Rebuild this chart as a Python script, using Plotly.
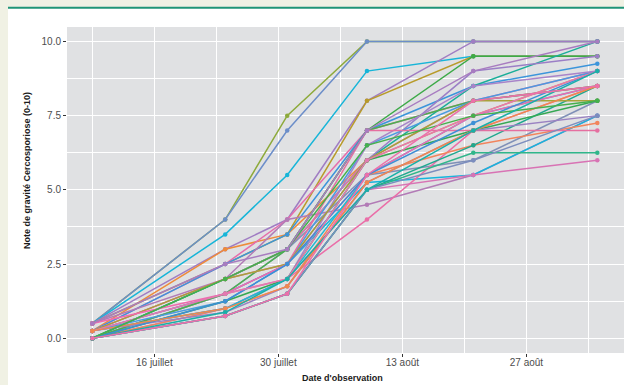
import datetime as dt
import plotly.graph_objects as go

# Observation dates (one column of points per date)
dates = ["2023-07-09", "2023-07-24", "2023-07-31", "2023-08-09", "2023-08-21", "2023-09-04"]

# Cercosporiosis severity score (0-10) per plot, one value per observation date
series_names = [f"P{i:02d}" for i in range(1, 38)]
series_values = [
    [0.5, 4.0, 7.5, 10.0, 10.0, 10.0],
    [0.5, 4.0, 7.0, 10.0, 10.0, 10.0],
    [0.5, 3.5, 5.5, 9.0, 9.5, 9.5],
    [0.5, 3.0, 4.0, 8.0, 10.0, 10.0],
    [0.25, 3.0, 3.5, 6.0, 7.5, 9.0],
    [0.5, 2.5, 3.5, 8.0, 9.5, 9.5],
    [0.25, 2.5, 4.0, 7.0, 8.0, 9.0],
    [0.25, 2.5, 3.5, 7.0, 8.5, 9.25],
    [0.0, 2.0, 3.0, 7.0, 9.5, 9.5],
    [0.0, 2.0, 3.0, 6.0, 8.5, 10.0],
    [0.25, 2.0, 3.0, 6.0, 8.0, 8.5],
    [0.5, 2.0, 4.0, 4.5, 5.5, 7.5],
    [0.25, 1.5, 3.0, 5.5, 6.0, 8.0],
    [0.0, 1.5, 2.5, 5.25, 5.5, 7.5],
    [0.0, 1.5, 2.0, 4.0, 7.0, 8.5],
    [0.25, 1.5, 2.5, 6.0, 9.0, 9.5],
    [0.0, 1.5, 3.0, 7.0, 8.0, 8.5],
    [0.0, 0.75, 1.5, 5.0, 6.25, 6.25],
    [0.0, 1.0, 2.0, 5.0, 5.5, 6.0],
    [0.0, 1.0, 1.75, 5.5, 6.5, 7.25],
    [0.0, 0.75, 1.5, 5.0, 6.5, 8.5],
    [0.25, 1.25, 2.5, 6.5, 8.0, 9.0],
    [0.25, 1.0, 2.0, 6.5, 8.5, 9.0],
    [0.25, 2.0, 2.5, 7.0, 7.0, 7.0],
    [0.25, 2.0, 2.5, 6.0, 8.0, 8.0],
    [0.0, 1.25, 2.0, 6.0, 7.0, 8.0],
    [0.25, 1.0, 2.0, 5.5, 7.5, 8.5],
    [0.5, 1.5, 2.5, 5.5, 7.5, 8.5],
    [0.25, 0.875, 1.75, 5.25, 7.0, 7.5],
    [0.0, 1.25, 2.5, 5.5, 7.25, 9.0],
    [0.25, 1.5, 2.0, 6.0, 7.5, 9.0],
    [0.0, 0.75, 1.5, 5.0, 6.0, 7.5],
    [0.25, 1.0, 1.75, 5.25, 7.0, 8.5],
    [0.0, 2.0, 3.0, 6.5, 7.5, 8.0],
    [0.0, 0.875, 2.0, 5.0, 7.0, 9.0],
    [0.5, 2.5, 3.0, 7.0, 9.0, 10.0],
    [0.0, 0.75, 1.5, 5.5, 8.0, 8.5],
]
series_colors = [
    "#8DAA3B", "#6C8EC9", "#17B5D8", "#A07DC3", "#EE8B3A", "#B89B2B",
    "#E56DAB", "#3C95DB", "#3DAA48", "#1AAE98", "#E773A9", "#B27BB6",
    "#7F90B7", "#17B5DC", "#EA6EA8", "#9B7EC6", "#4CAF50", "#2FB68A",
    "#D873B4", "#F2845C", "#1FA88F", "#4A9BE0", "#A884C9", "#E56FA0",
    "#A8A23A", "#35A853", "#22B9D4", "#F06AAE", "#9A82C2", "#3D8FD6",
    "#E27AB0", "#7C8DBE", "#F0884E", "#45B04C", "#18B0A8", "#A87CC0",
    "#EC70AA",
]

# Axis ticks
x_tick_vals = ["2023-07-16", "2023-07-30", "2023-08-13", "2023-08-27"]
x_tick_text = ["16 juillet", "30 juillet", "13 août", "27 août"]
y_tick_vals = [0, 2.5, 5, 7.5, 10]
y_tick_text = ["0.0", "2.5", "5.0", "7.5", "10.0"]

fig = go.Figure()
for name, vals, col in zip(series_names, series_values, series_colors):
    fig.add_trace(go.Scatter(
        x=dates, y=vals, name=name, mode="lines+markers",
        line=dict(color=col, width=1.5),
        marker=dict(color=col, size=4.5),
        showlegend=False,
    ))

d0 = dt.datetime.fromisoformat(dates[0])
d1 = dt.datetime.fromisoformat(dates[-1])
x_range = [d0 - dt.timedelta(days=2.855), d1 + dt.timedelta(days=3.01)]

W, H = 624, 385
ml, mr, mt, mb = 67, 0, 27, 32
pw, ph = W - ml - mr, H - mt - mb


def px_x(p):
    return (p - ml) / pw


def px_y(p):
    return (H - mb - p) / ph


font_family = "Liberation Sans, Arial, sans-serif"
beige = "#F0F1E4"

fig.update_layout(
    width=W, height=H,
    margin=dict(l=ml, r=mr, t=mt, b=mb),
    paper_bgcolor="white",
    plot_bgcolor="#E0E1E3",
    font=dict(family=font_family, color="#4D4D4D", size=10),
    xaxis=dict(
        type="date", range=x_range,
        tickmode="array", tickvals=x_tick_vals, ticktext=x_tick_text,
        showgrid=True, gridcolor="white", gridwidth=1.4,
        ticks="outside", ticklen=3, tickcolor="#333333", tickwidth=1,
        ticklabelstandoff=-3,
        tickfont=dict(size=10, color="#4D4D4D"),
        showline=False, zeroline=False,
        minor=dict(tick0="2023-07-09", dtick=14 * 86400000,
                   showgrid=True, gridcolor="white", gridwidth=0.7, ticks=""),
    ),
    yaxis=dict(
        range=[-0.495, 10.485],
        tickmode="array", tickvals=y_tick_vals, ticktext=y_tick_text,
        showgrid=True, gridcolor="white", gridwidth=1.4,
        ticks="outside", ticklen=3, tickcolor="#333333", tickwidth=1,
        tickfont=dict(size=10, color="#4D4D4D"),
        showline=False, zeroline=False,
        minor=dict(tick0=0, dtick=1.25,
                   showgrid=True, gridcolor="white", gridwidth=0.7, ticks=""),
    ),
    shapes=[
        # beige page margin around the white card
        dict(type="rect", xref="paper", yref="paper",
             x0=px_x(-5), x1=px_x(8), y0=px_y(W), y1=px_y(-5),
             fillcolor=beige, line=dict(width=0), layer="above"),
        dict(type="rect", xref="paper", yref="paper",
             x0=px_x(-5), x1=px_x(W + 5), y0=px_y(7), y1=px_y(-5),
             fillcolor=beige, line=dict(width=0), layer="above"),
        # teal rule at the top of the card
        dict(type="line", xref="paper", yref="paper",
             x0=px_x(8), x1=px_x(W + 5), y0=px_y(7.8), y1=px_y(7.8),
             line=dict(color="#1F9577", width=2), layer="above"),
    ],
    annotations=[
        dict(text="<b>Date d'observation</b>", xref="paper", yref="paper",
             x=px_x(342), y=px_y(378), xanchor="center", yanchor="middle",
             showarrow=False, font=dict(size=9, color="#1A1A1A", family=font_family)),
        dict(text="<b>Note de gravité Cercosporiose (0-10)</b>", xref="paper", yref="paper",
             x=px_x(27), y=px_y(171), xanchor="center", yanchor="middle", textangle=-90,
             showarrow=False, font=dict(size=9, color="#1A1A1A", family=font_family)),
    ],
)

fig.write_html("out.html")
